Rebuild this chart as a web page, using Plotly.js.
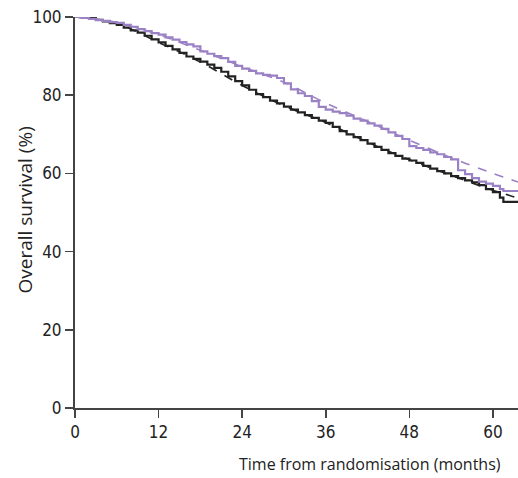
<!DOCTYPE html>
<html>
<head>
<meta charset="utf-8">
<script src="https://cdn.plot.ly/plotly-3.0.1.min.js"></script>
<style>html,body{margin:0;padding:0;background:#fff;}#chart{width:518px;height:478px;}</style>
</head>
<body>
<div id="chart"></div>
<script>
// Months and observed survival (%), group A (black) and group B (purple)
const monthsObs = [0,1,2,3,4,5,6,7,8,9,10,11,12,13,14,15,16,17,18,19,20,21,22,23,24,25,26,27,28,29,30,31,32,33,34,35,36,37,38,39,40,41,42,43,44,45,46,47,48,49,50,51,52,53,54,55,56,57,58,59,60,61,61.5,63.6];
const blackObs = [100,99.9,99.7,99.3,98.9,98.4,98.0,97.3,96.6,96.0,95.2,94.3,93.5,92.6,91.7,90.8,89.9,89.3,88.6,87.8,87.0,86.0,84.8,83.6,82.5,81.4,80.3,79.5,78.6,77.9,77.1,76.3,75.6,74.9,74.2,73.5,72.9,71.9,70.8,70.0,69.3,68.5,67.6,66.8,66.0,65.2,64.5,63.8,63.3,62.7,61.9,61.2,60.6,60.0,59.3,58.8,58.2,57.7,57.0,56.0,55.2,53.8,52.7,52.6];
const purpleObs = [100,99.8,99.5,99.2,99.0,98.7,98.5,98.0,97.5,96.9,96.4,95.9,95.5,94.8,94.2,93.6,93.0,92.5,91.2,90.6,90.0,89.5,88.5,87.5,86.8,86.2,85.6,85.2,85.0,84.4,83.0,81.5,80.5,79.8,78.5,77.0,76.3,75.8,75.4,74.8,74.0,73.5,72.8,72.2,71.4,70.5,69.6,68.8,67.0,66.5,66.0,65.4,64.9,64.2,63.6,60.8,59.8,58.8,57.9,57.4,56.8,56.0,55.5,55.4];

// Modelled (dashed) curves
const monthsFit = [0,6,12,18,24,30,36,42,48,54,60,63.6];
const blackFit = [100,98.3,93.5,88.5,82.5,77.3,73.0,68.0,63.5,59.5,55.7,53.7];
const purpleFit = [100,98.6,95.5,91.5,87.3,83.3,78.0,73.3,68.5,64.0,60.0,57.8];

const xTicks = [0,12,24,36,48,60];
const yTicks = [0,20,40,60,80,100];

const black = '#222222';
const purple = '#9a80c4';

const traces = [
  {x: monthsFit, y: blackFit, mode: 'lines', line: {color: black, width: 1.6, dash: 'dash', shape: 'spline'}, hoverinfo: 'skip'},
  {x: monthsFit, y: purpleFit, mode: 'lines', line: {color: purple, width: 1.6, dash: 'dash', shape: 'spline'}, hoverinfo: 'skip'},
  {x: monthsObs, y: blackObs, mode: 'lines', line: {color: black, width: 2.2, shape: 'hv'}},
  {x: monthsObs, y: purpleObs, mode: 'lines', line: {color: purple, width: 2.2, shape: 'hv'}}
];

const narrow = '"DejaVu Sans Condensed", "Open Sans", sans-serif';
const tickFont = {family: narrow, size: 17, color: '#222'};
const titleFamily = '"Open Sans", "Noto Sans", sans-serif';

const layout = {
  width: 518, height: 478,
  margin: {l: 75, r: 0, t: 17, b: 70},
  paper_bgcolor: '#fff', plot_bgcolor: '#fff',
  showlegend: false,
  xaxis: {
    range: [0, 63.6], tickvals: xTicks, ticktext: xTicks.map(String),
    ticks: 'outside', ticklen: 8, tickwidth: 1.5, tickcolor: '#444',
    showline: true, linecolor: '#444', linewidth: 2, showgrid: false, zeroline: false,
    tickfont: tickFont, fixedrange: true
  },
  yaxis: {
    range: [0, 100], tickvals: yTicks, ticktext: yTicks.map(String),
    ticks: 'outside', ticklen: 8, tickwidth: 1.5, tickcolor: '#444',
    showline: true, linecolor: '#444', linewidth: 2, showgrid: false, zeroline: false,
    tickfont: tickFont, fixedrange: true
  },
  annotations: [
    {text: 'Time from randomisation (months)', xref: 'paper', yref: 'paper', x: 0.666, y: 0, yshift: -56,
     xanchor: 'center', yanchor: 'middle', showarrow: false,
     font: {family: titleFamily, size: 16, color: '#222'}},
    {text: 'Overall survival (%)', xref: 'paper', yref: 'paper', x: 0, xshift: -51, y: 0.5, yshift: 2,
     xanchor: 'center', yanchor: 'middle', textangle: -90, showarrow: false,
     font: {family: titleFamily, size: 19, color: '#222'}}
  ]
};

Plotly.newPlot('chart', traces, layout, {displayModeBar: false, staticPlot: true});
</script>
</body>
</html>
